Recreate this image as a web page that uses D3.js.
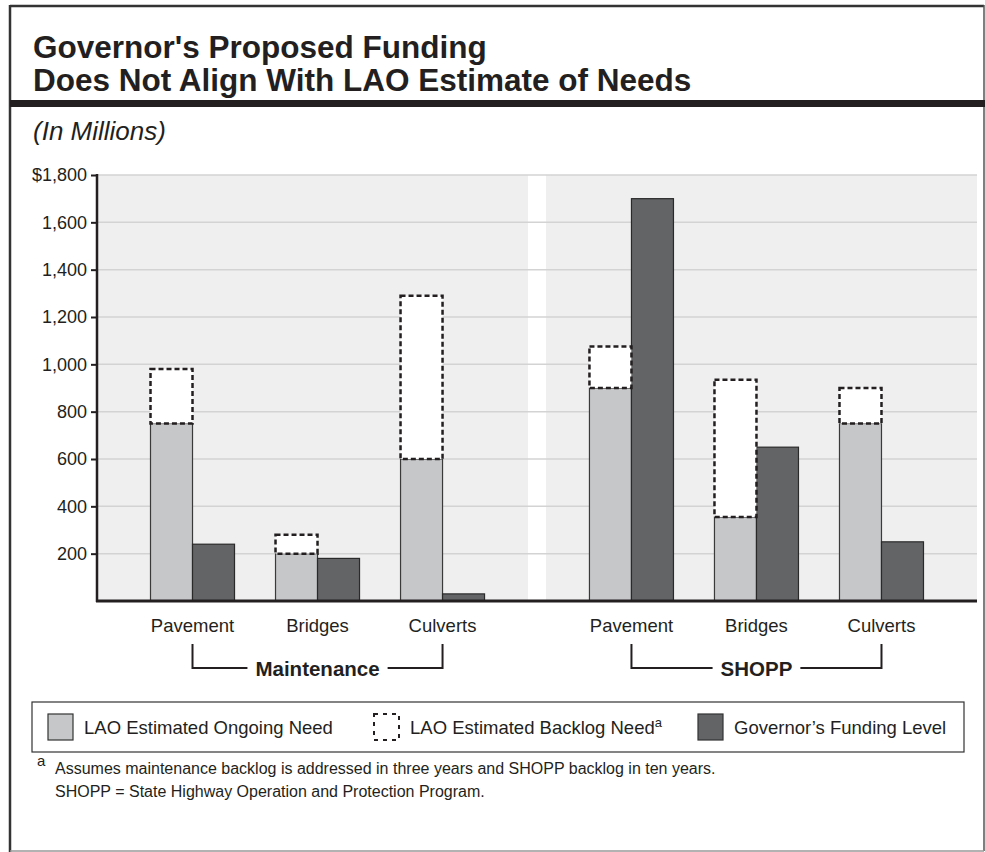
<!DOCTYPE html>
<html>
<head>
<meta charset="utf-8">
<script src="https://cdn.jsdelivr.net/npm/d3@7"></script>
<style>
  body { margin: 0; background: #fff; }
  svg { display: block; font-family: "Liberation Sans", Arial, Helvetica, sans-serif; }
</style>
</head>
<body>
<svg id="chart"></svg>
<script>
// values, in $ millions
const programs = ["Maintenance", "SHOPP"];
const categories = ["Pavement", "Bridges", "Culverts"];
const maintenanceOngoing = [750, 200, 600];
const maintenanceBacklog = [230, 80, 690];
const maintenanceGovernor = [240, 180, 30];
const shoppOngoing = [900, 355, 750];
const shoppBacklog = [175, 580, 150];
const shoppGovernor = [1700, 650, 250];
const yTicks = [200, 400, 600, 800, 1000, 1200, 1400, 1600, 1800];

const seriesByProgram = {
    Maintenance: { ongoing: maintenanceOngoing, backlog: maintenanceBacklog, governor: maintenanceGovernor },
    SHOPP: { ongoing: shoppOngoing, backlog: shoppBacklog, governor: shoppGovernor }
};

const W = 985, H = 852;
const ink = "#231f20";
const ongoingColor = "#c6c7c9";
const governorColor = "#636466";

const svg = d3.select("#chart").attr("width", W).attr("height", H);

// frame
svg.append("line").attr("x1", 10).attr("x2", 984).attr("y1", 6).attr("y2", 6)
    .attr("stroke", "#333").attr("stroke-width", 2.5);
svg.append("line").attr("x1", 10).attr("x2", 10).attr("y1", 5).attr("y2", H)
    .attr("stroke", "#333").attr("stroke-width", 2.5);
svg.append("line").attr("x1", 984).attr("x2", 984).attr("y1", 5).attr("y2", 851)
    .attr("stroke", "#555").attr("stroke-width", 1.5);
svg.append("line").attr("x1", 10).attr("x2", 984).attr("y1", 851).attr("y2", 851)
    .attr("stroke", "#999").attr("stroke-width", 1.5);
svg.append("rect").attr("x", 10).attr("y", 100).attr("width", W - 10).attr("height", 7).attr("fill", ink);

// titles
const title = svg.append("text").attr("x", 33).attr("font-weight", "bold")
    .attr("font-size", 31.5).attr("fill", ink);
title.append("tspan").attr("x", 33).attr("y", 58).text("Governor's Proposed Funding");
title.append("tspan").attr("x", 33).attr("y", 91).text("Does Not Align With LAO Estimate of Needs");

svg.append("text").attr("x", 33).attr("y", 140).attr("font-style", "italic")
    .attr("font-size", 26).attr("fill", ink).text("(In Millions)");

// plot area
const plot = { left: 97, right: 977, top: 175, bottom: 601 };

const y = d3.scaleLinear().domain([0, 1800]).range([plot.bottom, plot.top]);

const x0 = d3.scaleBand().domain(programs).range([plot.left + 5, plot.right - 5]).paddingInner(0.018);
const x1 = d3.scaleBand().domain(categories).range([0, x0.bandwidth()])
    .paddingInner(0.328).paddingOuter(0.388);
const x2 = d3.scaleBand().domain(["ongoing", "governor"]).range([0, x1.bandwidth()]);

svg.append("rect").attr("x", plot.left).attr("y", plot.top)
    .attr("width", plot.right - plot.left).attr("height", plot.bottom - plot.top)
    .attr("fill", "#efefef");

// white separator between the two programs
const gapMid = (x0("Maintenance") + x0.bandwidth() + x0("SHOPP")) / 2;
svg.append("rect").attr("x", gapMid - 9).attr("y", plot.top)
    .attr("width", 18).attr("height", plot.bottom - plot.top).attr("fill", "#fff");

// gridlines
svg.append("g").selectAll("line").data(yTicks).join("line")
    .attr("x1", plot.left).attr("x2", plot.right)
    .attr("y1", d => y(d)).attr("y2", d => y(d))
    .attr("stroke", "#d3d3d3").attr("stroke-width", 1.5);

// bars
const groups = svg.append("g").selectAll("g.program").data(programs).join("g")
    .attr("class", "program")
    .attr("transform", p => `translate(${x0(p)},0)`);

groups.each(function(p) {
    const s = seriesByProgram[p];
    const cat = d3.select(this).selectAll("g.cat").data(categories).join("g")
        .attr("class", "cat")
        .attr("transform", c => `translate(${x1(c)},0)`);

    cat.append("rect")
        .attr("x", x2("ongoing")).attr("width", x2.bandwidth())
        .attr("y", (c, i) => y(s.ongoing[i]))
        .attr("height", (c, i) => y(0) - y(s.ongoing[i]))
        .attr("fill", ongoingColor).attr("stroke", "#3a3a3a").attr("stroke-width", 1.2);

    cat.append("rect")
        .attr("x", x2("governor")).attr("width", x2.bandwidth())
        .attr("y", (c, i) => y(s.governor[i]))
        .attr("height", (c, i) => y(0) - y(s.governor[i]))
        .attr("fill", governorColor).attr("stroke", "#2a2a2a").attr("stroke-width", 1.2);

    cat.append("rect")
        .attr("x", x2("ongoing")).attr("width", x2.bandwidth())
        .attr("y", (c, i) => y(s.ongoing[i] + s.backlog[i]))
        .attr("height", (c, i) => y(s.ongoing[i]) - y(s.ongoing[i] + s.backlog[i]))
        .attr("fill", "#fff").attr("stroke", ink).attr("stroke-width", 2.5)
        .attr("stroke-dasharray", "5,3");

    cat.append("text")
        .attr("x", x1.bandwidth() / 2).attr("y", 632)
        .attr("text-anchor", "middle").attr("font-size", 18.5).attr("fill", ink)
        .text(c => c);

    // bracket under the program
    const xa = x1(categories[0]) + x1.bandwidth() / 2;
    const xb = x1(categories[2]) + x1.bandwidth() / 2;
    const xm = (xa + xb) / 2;
    const g = d3.select(this);
    const label = g.append("text").attr("x", xm).attr("y", 676)
        .attr("text-anchor", "middle").attr("font-size", 20.5).attr("font-weight", "bold")
        .attr("fill", ink).text(p);
    const half = label.node().getComputedTextLength() / 2 + 8;
    g.append("path")
        .attr("d", `M${xa},644V668H${xm - half}M${xm + half},668H${xb}V644`)
        .attr("fill", "none").attr("stroke", ink).attr("stroke-width", 2);
});

// axes
const yAxis = d3.axisLeft(y).tickValues(yTicks).tickSize(6).tickPadding(4)
    .tickFormat(d => (d === 1800 ? "$" : "") + d3.format(",")(d));
const ya = svg.append("g").attr("transform", `translate(${plot.left},0)`).call(yAxis);
ya.select(".domain").remove();
ya.selectAll("line").attr("stroke", ink).attr("stroke-width", 2);
ya.selectAll("text").attr("font-size", 18).attr("fill", ink)
    .attr("font-family", "Liberation Sans, Arial, sans-serif");

svg.append("line").attr("x1", plot.left).attr("x2", plot.left)
    .attr("y1", plot.top - 1).attr("y2", plot.bottom + 1)
    .attr("stroke", ink).attr("stroke-width", 2.5);
svg.append("line").attr("x1", plot.left - 1).attr("x2", plot.right)
    .attr("y1", plot.bottom).attr("y2", plot.bottom)
    .attr("stroke", ink).attr("stroke-width", 3);

// legend
const legend = svg.append("g");
legend.append("rect").attr("x", 32).attr("y", 702).attr("width", 932).attr("height", 50)
    .attr("fill", "#fff").attr("stroke", "#333").attr("stroke-width", 1.2);

const legendItems = [
    { x: 48, label: "LAO Estimated Ongoing Need", fill: ongoingColor, dashed: false },
    { x: 374, label: "LAO Estimated Backlog Need", fill: "#fff", dashed: true, note: "a" },
    { x: 698, label: "Governor\u2019s Funding Level", fill: governorColor, dashed: false }
];
legendItems.forEach(item => {
    legend.append("rect").attr("x", item.x).attr("y", 714).attr("width", 25).attr("height", 26)
        .attr("fill", item.fill)
        .attr("stroke", item.dashed ? ink : "#333")
        .attr("stroke-width", item.dashed ? 2 : 1.2)
        .attr("stroke-dasharray", item.dashed ? "4,5" : null);
    const t = legend.append("text").attr("x", item.x + 36).attr("y", 734)
        .attr("font-size", 18.5).attr("fill", ink).text(item.label);
    if (item.note) {
        t.append("tspan").attr("dy", -7).attr("font-size", 13).text(item.note);
    }
});

// footnotes
svg.append("text").attr("x", 37).attr("y", 766).attr("font-size", 15).attr("fill", ink).text("a");
svg.append("text").attr("x", 55).attr("y", 774).attr("font-size", 16).attr("fill", ink)
    .text("Assumes maintenance backlog is addressed in three years and SHOPP backlog in ten years.");
svg.append("text").attr("x", 55).attr("y", 797).attr("font-size", 16).attr("fill", ink)
    .text("SHOPP = State Highway Operation and Protection Program.");
</script>
</body>
</html>
